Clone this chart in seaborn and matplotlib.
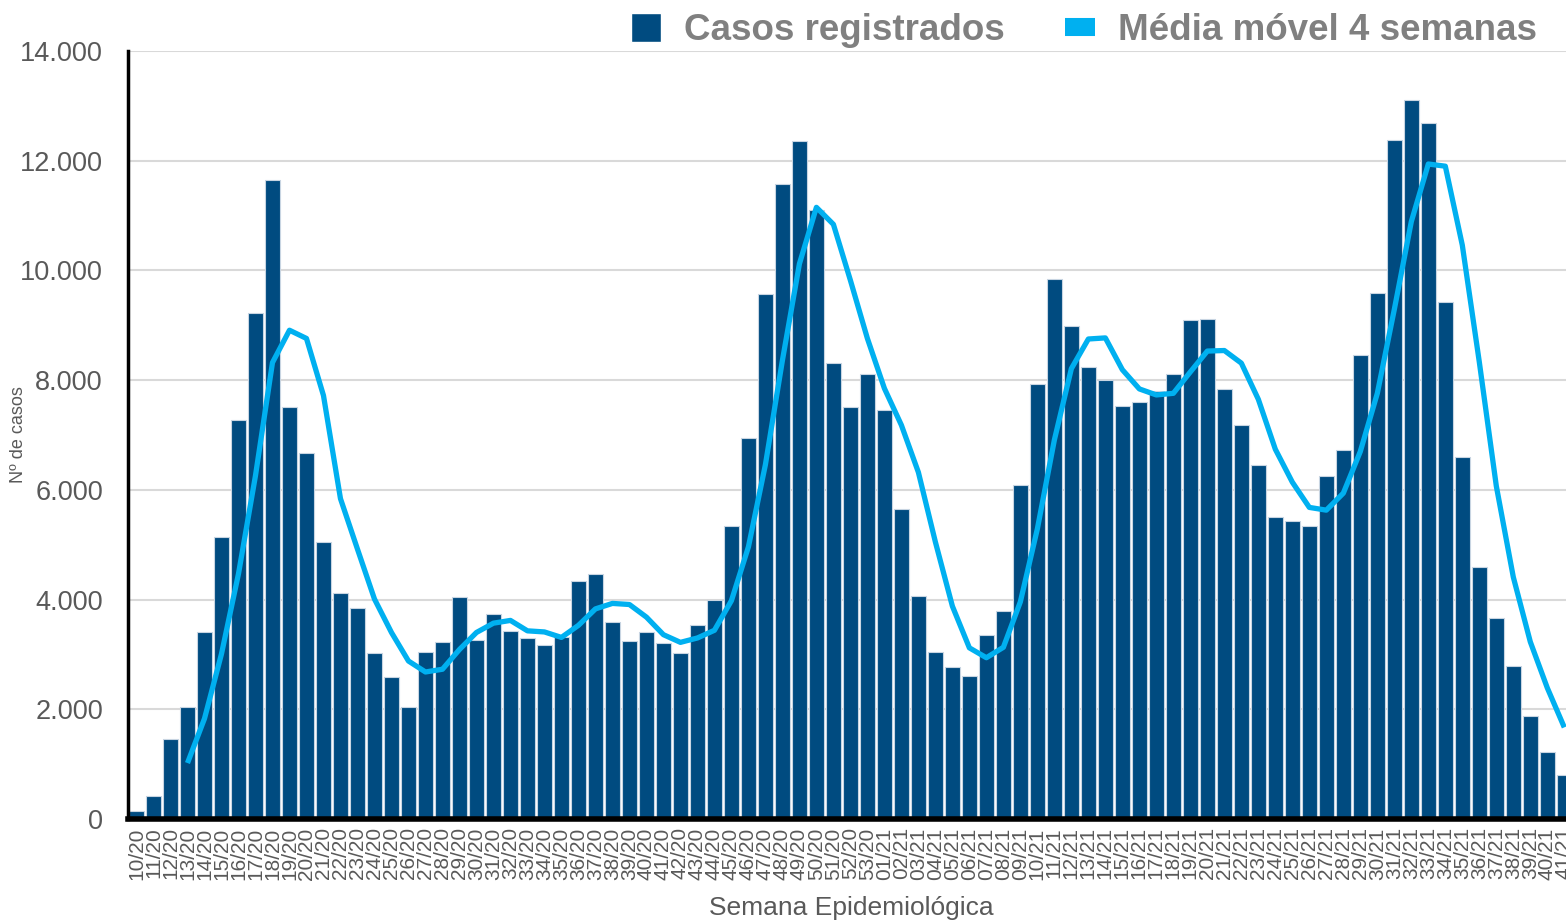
import numpy as np
import pandas as pd
import seaborn as sns
import matplotlib.pyplot as plt
from matplotlib.ticker import FuncFormatter, FixedLocator
from matplotlib.patches import Patch
from matplotlib.lines import Line2D

# semanas epidemiologicas 10/20 .. 53/20 e 01/21 .. 41/21
weeks_2020 = ['%02d/20' % w for w in range(10, 54)]
weeks_2021 = ['%02d/21' % w for w in range(1, 42)]
weeks = weeks_2020 + weeks_2021

cases = [150, 420, 1460, 2040, 3410, 5140, 7270, 9220, 11650, 7510,
         6670, 5050, 4120, 3850, 3030, 2590, 2040, 3040, 3230, 4050,
         3260, 3740, 3430, 3300, 3170, 3320, 4340, 4470, 3590, 3240,
         3410, 3210, 3030, 3540, 3990, 5340, 6950, 9570, 11580, 12360,
         11100, 8310, 7510, 8110,
         7460, 5650, 4060, 3040, 2770, 2610, 3350, 3790, 6090, 7930,
         9840, 8990, 8240, 8000, 7530, 7600, 7800, 8110, 9100, 9110,
         7840, 7180, 6450, 5500, 5430, 5340, 6250, 6730, 8460, 9590,
         12380, 13110, 12690, 9420, 6600, 4590, 3660, 2790, 1880, 1220,
         800]

# media movel (a partir de 13/20)
moving_avg = [1020, 1830, 3010, 4470, 6260, 8320, 8910, 8760, 7720, 5840,
              4920, 4010, 3400, 2880, 2680, 2730, 3090, 3400, 3570, 3620,
              3430, 3410, 3310, 3530, 3830, 3930, 3910, 3680, 3360, 3220,
              3300, 3440, 3980, 4960, 6460, 8360, 10120, 11150, 10840, 9820,
              8760, 7850, 7180, 6320, 5050, 3880, 3120, 2940, 3130, 3960,
              5290, 6910, 8210, 8750, 8770, 8190, 7840, 7730, 7760, 8150,
              8530, 8540, 8310, 7650, 6740, 6140, 5680, 5630, 5940, 6700,
              7760, 9290, 10890, 11940, 11900, 10460, 8330, 6070, 4410, 3230,
              2390, 1670]

bar_color = '#004b80'
line_color = '#00b0f0'
text_gray = '#595959'

sns.set_style('white')
plt.rcParams['font.family'] = ['Liberation Sans', 'DejaVu Sans']

fig = plt.figure(figsize=(15.66, 9.22), dpi=100)
ax = fig.add_axes([128 / 1566, 1 - 819 / 922, 1 - 128 / 1566, (819 - 51) / 922])

df = pd.DataFrame({'semana': weeks, 'casos': cases})
sns.barplot(data=df, x='semana', y='casos', color=bar_color, saturation=1,
            width=0.9, edgecolor='#c8d5e2', linewidth=0.8, ax=ax, zorder=2)

ma_x = np.arange(len(weeks) - len(moving_avg), len(weeks))
sns.lineplot(x=ma_x, y=moving_avg, color=line_color, linewidth=3.8, ax=ax,
             zorder=3, solid_capstyle='butt')

ax.set_ylim(0, 14000)
ax.set_xlim(-0.5, len(weeks) - 0.9)
ax.set_yticks(np.arange(0, 14001, 2000))
ax.yaxis.set_major_formatter(FuncFormatter(lambda v, p: '{:,.0f}'.format(v).replace(',', '.')))
ax.grid(axis='y', color='#d9d9d9', linewidth=1.5, zorder=0)
ax.set_axisbelow(True)

for s in ['top', 'right']:
    ax.spines[s].set_visible(False)
ax.spines['left'].set_linewidth(2.5)
ax.spines['left'].set_color('black')
ax.spines['bottom'].set_linewidth(4)
ax.spines['bottom'].set_color('black')

ax.tick_params(axis='y', length=0, labelsize=19.5, labelcolor=text_gray, pad=18)
ax.tick_params(axis='x', which='major', length=0, labelsize=15,
               labelcolor=text_gray, rotation=90, pad=6)
ax.xaxis.set_minor_locator(FixedLocator(np.arange(-0.5, len(weeks), 1)))
ax.tick_params(axis='x', which='minor', length=5, width=3, color='black')
for lbl in ax.get_xticklabels():
    lbl.set_va('top')

ax.set_xlabel('Semana Epidemiológica', fontsize=19, color=text_gray)
ax.xaxis.set_label_coords(0.503, -(908 - 819) / 768)
ax.xaxis.label.set_va('center')
ax.set_ylabel('Nº de casos', fontsize=13, color=text_gray)
ax.yaxis.set_label_coords(-(128 - 19) / 1438, 0.5)
ax.yaxis.label.set_va('center')

handles = [Patch(facecolor=bar_color, label='Casos registrados'),
           Line2D([], [], color=line_color, linewidth=13, solid_capstyle='butt',
                  label='Média móvel 4 semanas')]
leg = fig.legend(handles=handles, loc='upper right', bbox_to_anchor=(1537 / 1566, 1 - 13 / 922),
                 ncol=2, frameon=False, borderpad=0, borderaxespad=0,
                 handlelength=0.82, handleheight=0.82,
                 handletextpad=0.62, columnspacing=1.65,
                 prop={'size': 26.5, 'weight': 'bold'})
for t in leg.get_texts():
    t.set_color('#808080')

fig.savefig('out.png', dpi=100)
